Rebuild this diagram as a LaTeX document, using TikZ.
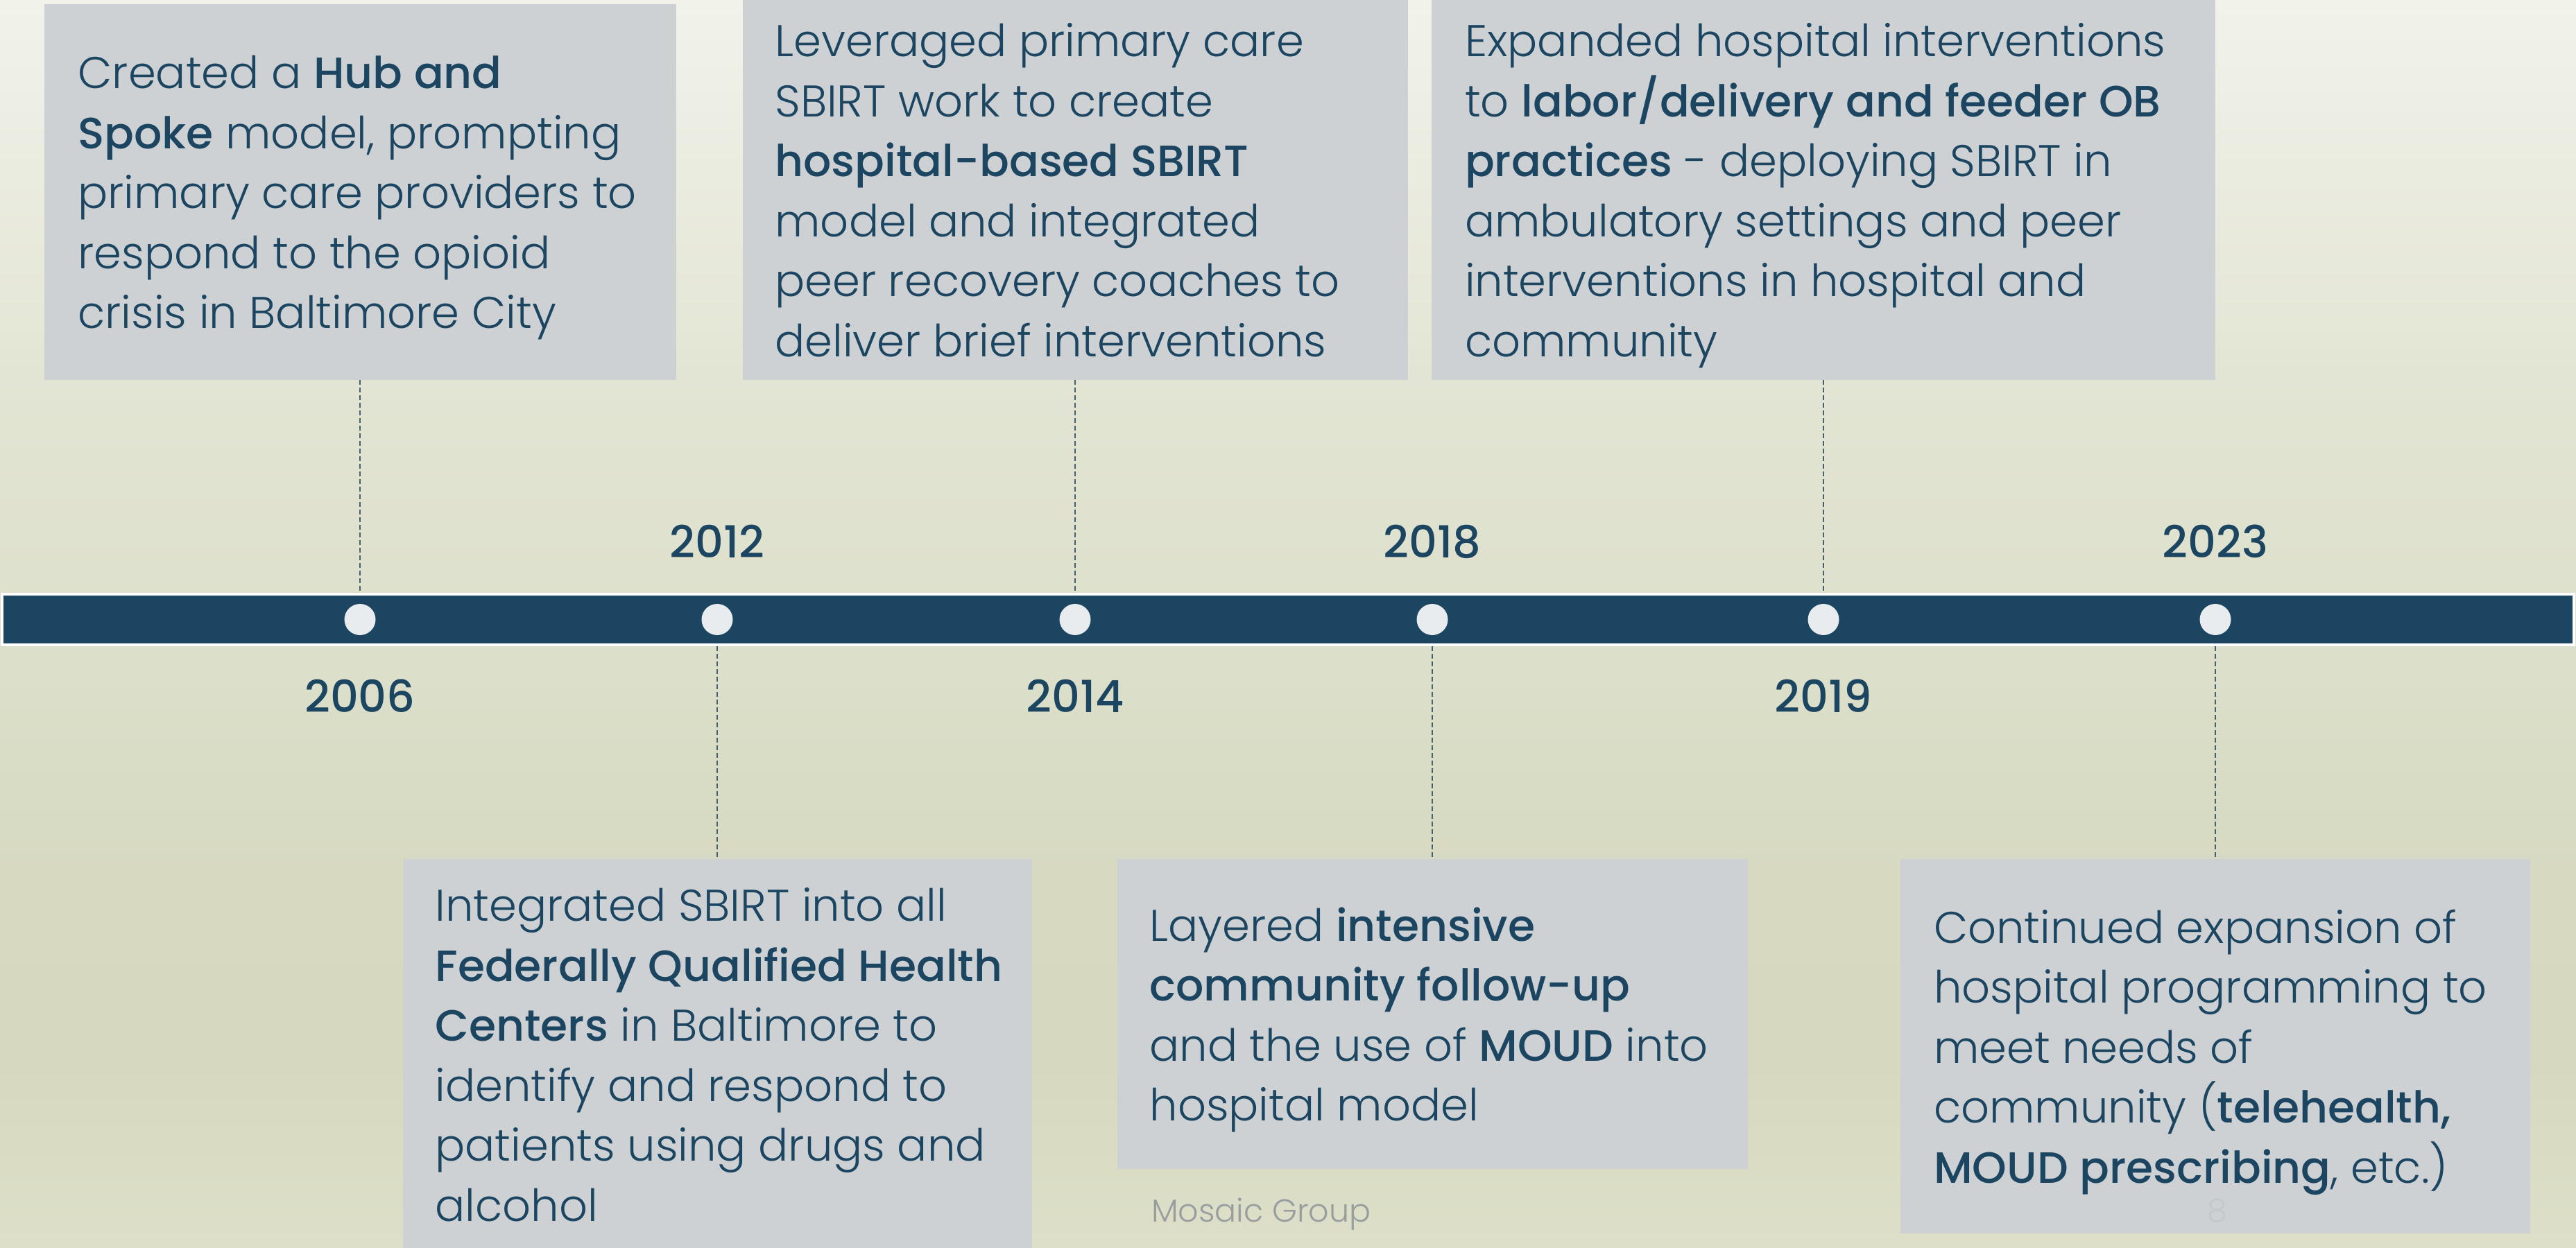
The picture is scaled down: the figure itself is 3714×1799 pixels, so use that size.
\documentclass[tikz,border=0pt]{standalone}
\usepackage{fontspec}
\setmainfont{Poppins Light}[BoldFont={Poppins Medium}, BoldFeatures={Scale=0.988}]
\usetikzlibrary{calc,positioning}
\definecolor{navy}{HTML}{1B4560}
\definecolor{boxgray}{HTML}{CDD1D3}
\definecolor{dotfill}{HTML}{E8ECEF}
\definecolor{linkc}{HTML}{46606E}
\definecolor{foot}{HTML}{989DA0}
\definecolor{pagenum}{HTML}{C4C8CA}
\definecolor{bgA}{HTML}{F1F2EA}
\definecolor{bgB}{HTML}{E3E5D4}
\definecolor{bgC}{HTML}{DDE0CB}
\definecolor{bgD}{HTML}{D7DAC1}
\definecolor{bgE}{HTML}{D6D9BF}
\definecolor{bgF}{HTML}{DDDFC8}
\pgfdeclareverticalshading{bgshade}{100bp}{%
  color(0bp)=(bgF); color(25bp)=(bgF); color(32.5bp)=(bgE); color(40bp)=(bgD);
  color(50bp)=(bgC); color(60bp)=(bgB); color(75bp)=(bgA); color(100bp)=(bgA)}

\begin{document}
\begin{tikzpicture}[
  x=1pt, y=-1pt,
  evbox/.style={fill=boxgray, inner sep=0pt},
  evtext/.style={anchor=west, inner sep=0pt, align=left, text depth=0pt, text=navy, font=\fontsize{64}{86.5}\selectfont},
  year/.style={anchor=base, inner sep=0pt, text=navy, font=\fontsize{64.5}{70}\selectfont\bfseries},
  dot/.style={circle, fill=dotfill, minimum size=45pt, inner sep=0pt},
  link/.style={draw=linkc, line width=2pt, dash pattern=on 7pt off 4pt},
]

\useasboundingbox (0,0) rectangle (3714,1799);
\shade[shading=bgshade] (0,0) rectangle (3714,1799);

% timeline bar and dots
\node[fill=navy, draw=white, line width=4pt, minimum width=3708pt, minimum height=73pt, inner sep=0pt] (bar) at (1857,893.5) {};
\node[dot] (d2006) at (519,893.5) {};
\node[dot] (d2012) at (1034,893.5) {};
\node[dot] (d2014) at (1550,893.5) {};
\node[dot] (d2018) at (2065,893.5) {};
\node[dot] (d2019) at (2629,893.5) {};
\node[dot] (d2023) at (3194,893.5) {};

% years
\node[year] (y2006) at ($(d2006)+(0,134)$) {2006};
\node[year] (y2012) at ($(d2012)+(0,-89.5)$) {2012};
\node[year] (y2014) at ($(d2014)+(0,134)$) {2014};
\node[year] (y2018) at ($(d2018)+(0,-89.5)$) {2018};
\node[year] (y2019) at ($(d2019)+(0,134)$) {2019};
\node[year] (y2023) at ($(d2023)+(0,-89.5)$) {2023};

% event boxes
\node[evbox, minimum width=911pt, minimum height=542pt] (ev2006) at (d2006 |- 0,277) {};
\node[evbox, minimum width=907pt, minimum height=564pt] (ev2012) at (d2012 |- 0,1521) {};
\node[evbox, minimum width=959pt, minimum height=548pt] (ev2014) at (d2014 |- 0,274) {};
\node[evbox, minimum width=909pt, minimum height=447pt] (ev2018) at (d2018 |- 0,1462.5) {};
\node[evbox, minimum width=1130pt, minimum height=548pt] (ev2019) at (d2019 |- 0,274) {};
\node[evbox, minimum width=908pt, minimum height=540pt] (ev2023) at (d2023 |- 0,1509) {};

\node[evtext] (t2006) at ($(ev2006.west)+(49,0)$) {Created a \textbf{Hub and}\\\textbf{Spoke} model, prompting\\primary care providers to\\respond to the opioid\\crisis in Baltimore City};
\node[evtext] (t2012) at ($(ev2012.west)+(47,0)$) {Integrated SBIRT into all\\\textbf{Federally Qualified Health}\\\textbf{Centers} in Baltimore to\\identify and respond to\\patients using drugs and\\alcohol};
\node[evtext] (t2014) at ($(ev2014.west)+(47,0)$) {Leveraged primary care\\SBIRT work to create\\\textbf{hospital-based SBIRT}\\model and integrated\\peer recovery coaches to\\deliver brief interventions};
\node[evtext] (t2018) at ($(ev2018.west)+(47,0)$) {Layered \textbf{intensive}\\\textbf{community follow-up}\\and the use of \textbf{MOUD} into\\hospital model};
\node[evtext] (t2019) at ($(ev2019.west)+(48,0)$) {Expanded hospital interventions\\to \textbf{labor/delivery and feeder OB}\\\textbf{practices} - deploying SBIRT in\\ambulatory settings and peer\\interventions in hospital and\\community};
\node[evtext] (t2023) at ($(ev2023.west)+(48,0)$) {Continued expansion of\\hospital programming to\\meet needs of\\community (\textbf{telehealth,}\\\textbf{MOUD prescribing}, etc.)};

% connectors
\draw[link] (ev2006.south) -- (d2006 |- bar.north);
\draw[link] (ev2014.south) -- (d2014 |- bar.north);
\draw[link] (ev2019.south) -- (d2019 |- bar.north);
\draw[link] (d2012 |- bar.south) -- (ev2012.north);
\draw[link] (d2018 |- bar.south) -- (ev2018.north);
\draw[link] (d2023 |- bar.south) -- (ev2023.north);

% footer
\node[anchor=base west, inner sep=0pt, text=foot, font=\fontsize{46}{50}\selectfont] (footer) at (1660,1762) {Mosaic Group};
\node[anchor=base west, inner sep=0pt, text=pagenum, font=\fontsize{46}{50}\selectfont] (pgno) at (3182,1762) {8};

\end{tikzpicture}
\end{document}
